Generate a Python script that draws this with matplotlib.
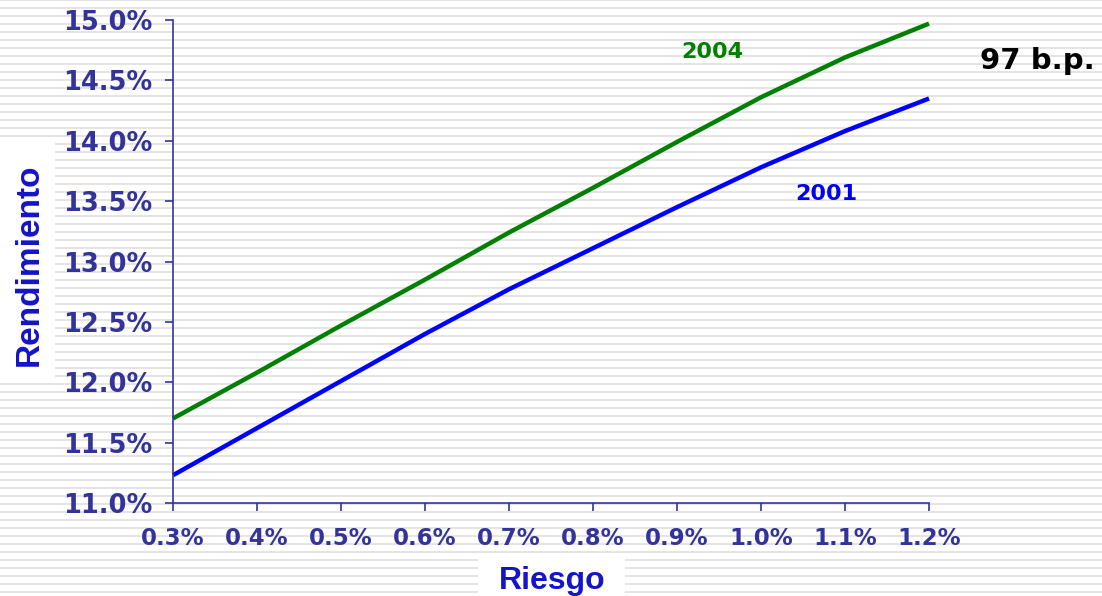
import matplotlib
matplotlib.use("Agg")
import matplotlib.pyplot as plt
from matplotlib.patches import Rectangle
import numpy as np

# ---- data ----
riesgo = [0.3, 0.4, 0.5, 0.6, 0.7, 0.8, 0.9, 1.0, 1.1, 1.2]
rend_2004 = [11.70, 12.08, 12.47, 12.85, 13.24, 13.61, 13.99, 14.36, 14.69, 14.97]
rend_2001 = [11.23, 11.62, 12.01, 12.40, 12.77, 13.11, 13.45, 13.78, 14.08, 14.35]
y_ticks = [11.0, 11.5, 12.0, 12.5, 13.0, 13.5, 14.0, 14.5, 15.0]
x_ticks = [0.3, 0.4, 0.5, 0.6, 0.7, 0.8, 0.9, 1.0, 1.1, 1.2]

W, H = 1102, 596
fig = plt.figure(figsize=(W / 100, H / 100), dpi=100)
fig.patch.set_facecolor("white")

# ---- striped slide background ----
bg = fig.add_axes([0, 0, 1, 1], zorder=-10)
bg.set_xlim(0, W)
bg.set_ylim(H, 0)
bg.axis("off")
y0 = -1.3
while y0 < H:
    bg.add_patch(Rectangle((0, y0), W, 2.5, color="#e4e4e4", lw=0))
    y0 += 8
# white boxes behind axis titles
bg.add_patch(Rectangle((0, 143), 55, 240, color="white", lw=0))
bg.add_patch(Rectangle((478, 555), 147, 41, color="white", lw=0))

# ---- main axes ----
left, right, top, bottom = 173, 929, 20, 503
ax = fig.add_axes([left / W, (H - bottom) / H, (right - left) / W, (bottom - top) / H])
ax.patch.set_alpha(0)

ax.plot(riesgo, rend_2004, color="#008000", lw=3.2, clip_on=False,
        solid_capstyle="butt", solid_joinstyle="round")
ax.plot(riesgo, rend_2001, color="#0000ff", lw=3.2, clip_on=False,
        solid_capstyle="butt", solid_joinstyle="round")

ax.set_xlim(0.3, 1.2)
ax.set_ylim(11.0, 15.0)
tick_color = "#333399"
for s in ["top", "right"]:
    ax.spines[s].set_visible(False)
for s in ["left", "bottom"]:
    ax.spines[s].set_color(tick_color)
    ax.spines[s].set_linewidth(1.2)

ax.set_yticks(y_ticks)
ax.set_yticklabels([f"{v:.1f}%" for v in y_ticks])
ax.set_xticks(x_ticks)
ax.set_xticklabels([f"{v:.1f}%" for v in x_ticks])
ax.tick_params(axis="y", direction="out", length=6, width=1.2, color=tick_color,
               labelcolor=tick_color, labelsize=18.5, pad=9)
ax.tick_params(axis="x", direction="out", length=5.5, width=1.2, color=tick_color,
               labelcolor=tick_color, labelsize=16.5, pad=12)
for lab in ax.get_xticklabels() + ax.get_yticklabels():
    lab.set_fontweight("bold")
    lab.set_family("DejaVu Sans")

# ---- annotations ----
def px(x, y):
    return x / W, 1 - y / H

fig.text(*px(712, 52), "2004", color="#008000", fontsize=16, fontweight="bold",
         family="DejaVu Sans", ha="center", va="center")
fig.text(*px(826, 194), "2001", color="#0000ee", fontsize=16, fontweight="bold",
         family="DejaVu Sans", ha="center", va="center")
fig.text(*px(1037, 61), "97 b.p.", color="black", fontsize=21, fontweight="bold",
         family="DejaVu Sans", ha="center", va="center")

fig.text(*px(29, 265), "Rendimiento", color="#1414c8", fontsize=24, fontweight="bold",
         family="Liberation Sans", rotation=90, ha="center", va="center")
fig.text(*px(552, 589), "Riesgo", color="#1414c8", fontsize=23, fontweight="bold",
         family="Liberation Sans", ha="center", va="baseline")

fig.savefig("out.png", dpi=100)
